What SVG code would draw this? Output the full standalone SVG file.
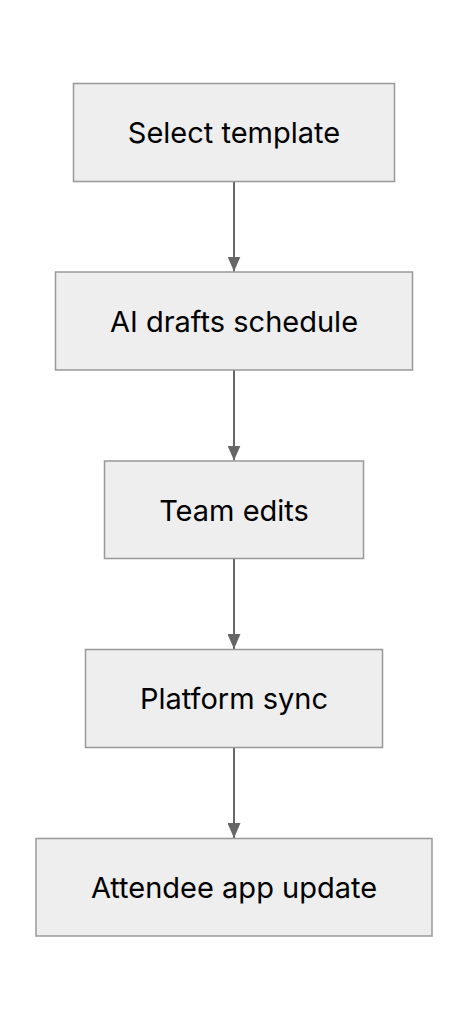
<svg xmlns="http://www.w3.org/2000/svg" width="468" height="1020" viewBox="0 0 468 1020">
<style>
.node rect{fill:#eeeeee;stroke:#999999;stroke-width:1.5}
.node text{font-family:Inter,"Liberation Sans",sans-serif;font-size:29px;fill:#000;text-anchor:middle;dominant-baseline:central}
.edge{stroke:#666666;stroke-width:2;fill:none}
</style>
<defs>
<marker id="arr" viewBox="0 0 15 13" refX="15" refY="6.5" markerWidth="15" markerHeight="13" markerUnits="userSpaceOnUse" orient="auto">
<path d="M0,0L15,6.5L0,13z" fill="#666666"/>
</marker>
</defs>
<rect width="468" height="1020" fill="#ffffff"/>
<g id="connectors">
<line class="edge" x1="234" y1="181.5" x2="234" y2="271.5" marker-end="url(#arr)"/>
<line class="edge" x1="234" y1="370" x2="234" y2="460.5" marker-end="url(#arr)"/>
<line class="edge" x1="234" y1="558.5" x2="234" y2="649" marker-end="url(#arr)"/>
<line class="edge" x1="234" y1="747.5" x2="234" y2="838" marker-end="url(#arr)"/>
</g>
<g id="n1" class="node"><rect x="73.5" y="83.5" width="321" height="98"/><text x="234" y="132.5">Select template</text></g>
<g id="n2" class="node"><rect x="55.5" y="272" width="357" height="98"/><text x="234" y="321">AI drafts schedule</text></g>
<g id="n3" class="node"><rect x="104.5" y="461" width="259" height="97.5"/><text x="234" y="510">Team edits</text></g>
<g id="n4" class="node"><rect x="85.5" y="649.5" width="297" height="98"/><text x="234" y="698.5">Platform sync</text></g>
<g id="n5" class="node"><rect x="36" y="838.5" width="396" height="97.5"/><text x="234" y="887.5">Attendee app update</text></g>
</svg>
